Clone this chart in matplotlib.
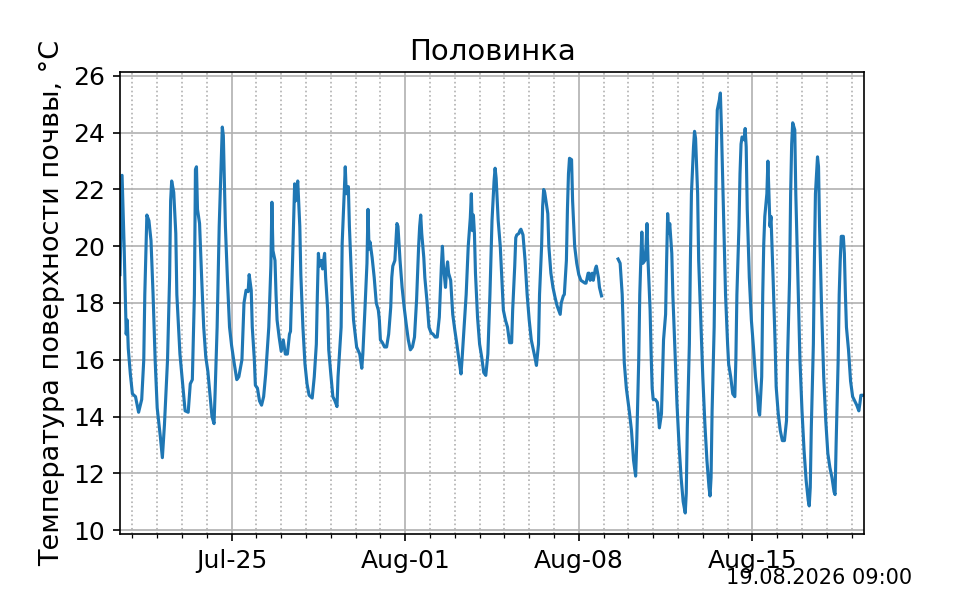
import matplotlib

matplotlib.use("Agg")
import matplotlib.dates as mdates
import matplotlib.pyplot as plt
import numpy as np
import pandas as pd

STATION = "Половинка"
Y_LABEL = "Температура поверхности почвы, °C"
STAMP = "19.08.2026 09:00"
START = pd.Timestamp("2026-07-20 12:00")
SPAN_DAYS = 30

# hours since START, soil surface temperature (nan = missing data)
hours = [
    0, 2, 4, 6, 7, 8, 10, 12, 15, 18, 21, 23, 24, 26, 28, 30, 32, 34, 36, 39,
    41, 43, 46, 48, 49, 50, 52, 54, 55, 58, 61, 63, 66, 68, 70, 72, 73, 74, 75, 77,
    79, 81, 83, 85, 87, 89, 91, 92, 94, 96, 98, 99, 100, 102, 104, 106, 108, 110, 113, 115,
    118, 120, 122, 124, 125, 127, 128, 130, 131, 133, 135, 137, 139, 141, 144, 146, 147, 148, 150, 151,
    152, 154, 156, 158, 160, 162, 164, 165, 167, 169, 170, 172, 174, 175, 177, 179, 181, 183, 186, 188,
    190, 191, 192, 193, 195, 196, 198, 199, 201, 202, 204, 206, 208, 210, 211, 214, 215, 217, 218, 219,
    221, 222, 224, 226, 229, 232, 234, 235, 237, 239, 240, 241, 242, 244, 246, 248, 250, 251, 252, 254,
    256, 258, 260, 262, 263, 264, 266, 268, 269, 271, 273, 275, 277, 279, 281, 283, 285, 287, 289, 290,
    291, 292, 294, 295, 297, 299, 301, 303, 305, 307, 309, 311, 312, 313, 315, 316, 317, 318, 320, 322,
    324, 326, 328, 330, 331, 333, 335, 337, 339, 340, 341, 342, 343, 344, 346, 348, 350, 352, 354, 356,
    358, 360, 362, 363, 364, 366, 368, 370, 371, 373, 375, 377, 379, 380, 382, 383, 384, 386, 387, 388,
    390, 392, 394, 396, 398, 400, 402, 403, 405, 406, 408, 409, 410, 411, 413, 414, 415, 417, 419, 421,
    423, 425, 426, 427, 429, 430, 432, 433, 434, 435, 437, 438, 440, 442, 444, 446, 448, 450, 451, 453,
    454, 455, 457, 458, 460, 461, 463, 464, 466, 474, 482, 484, 486, 487, 488, 490, 492, 493, 495, 497,
    499, 500, 502, 503, 504, 505, 506, 508, 509, 510, 511, 513, 514, 515, 516, 518, 520, 521, 522, 524,
    525, 526, 528, 529, 530, 531, 532, 534, 535, 537, 539, 541, 543, 545, 547, 548, 549, 551, 552, 553,
    555, 556, 557, 559, 560, 562, 564, 566, 568, 570, 571, 572, 573, 575, 576, 577, 578, 580, 581, 582,
    584, 586, 588, 589, 591, 593, 595, 596, 597, 599, 600, 601, 602, 604, 605, 606, 607, 609, 611, 613,
    615, 617, 618, 619, 621, 622, 623, 624, 626, 627, 628, 629, 630, 632, 634, 635, 637, 639, 641, 643,
    645, 646, 648, 649, 650, 651, 653, 654, 656, 658, 660, 662, 664, 666, 667, 668, 669, 671, 672, 673,
    675, 676, 677, 679, 681, 683, 685, 687, 689, 691, 692, 693, 695, 696, 697, 698, 700, 701, 702, 703,
    705, 707, 709, 711, 713, 715, 716, 717, 719,
]
temps = [
    19.0, 22.5, 20.0, 16.9, 17.4, 16.4, 15.5, 14.8, 14.7, 14.15, 14.6, 16.0, 18.3, 21.1, 20.9, 20.2, 18.3, 16.0, 14.3, 13.3,
    12.55, 13.7, 16.0, 18.9, 21.6, 22.3, 21.9, 20.45, 18.3, 16.2, 15.0, 14.2, 14.15, 15.15, 15.3, 18.3, 22.7, 22.8, 21.3, 20.8,
    18.9, 17.15, 16.1, 15.6, 14.8, 14.0, 13.75, 14.8, 17.15, 20.7, 23.0, 24.2, 23.9, 20.7, 18.8, 17.15, 16.5, 16.0, 15.3, 15.4,
    16.0, 18.0, 18.45, 18.4, 19.0, 18.45, 17.15, 16.0, 15.1, 15.0, 14.55, 14.4, 14.7, 15.5, 17.15, 19.3, 21.55, 19.85, 19.5, 18.3,
    17.4, 16.8, 16.3, 16.7, 16.2, 16.2, 16.9, 17.0, 19.5, 22.2, 21.6, 22.3, 20.7, 19.0, 17.15, 15.85, 15.15, 14.75, 14.65, 15.4,
    16.55, 18.3, 19.75, 19.3, 19.5, 19.2, 19.75, 18.9, 17.75, 16.35, 15.5, 14.7, 14.55, 14.35, 15.4, 17.15, 20.1, 21.85, 22.8, 21.85,
    22.1, 20.7, 18.9, 17.4, 16.45, 16.2, 15.7, 16.2, 17.75, 19.4, 21.3, 19.9, 20.15, 19.6, 18.9, 18.0, 17.75, 17.4, 16.7, 16.6,
    16.45, 16.45, 16.9, 17.85, 18.9, 19.3, 19.5, 20.8, 20.7, 19.5, 18.55, 17.85, 17.25, 16.7, 16.35, 16.45, 16.8, 18.1, 20.0, 20.7,
    21.1, 20.45, 19.6, 18.9, 18.1, 17.15, 16.95, 16.9, 16.8, 16.8, 17.5, 19.3, 20.0, 19.3, 18.55, 19.15, 19.45, 19.05, 18.8, 17.6,
    17.05, 16.55, 16.0, 15.5, 16.0, 17.15, 18.3, 20.0, 21.0, 21.85, 20.55, 21.1, 20.45, 19.05, 17.5, 16.55, 16.1, 15.55, 15.45, 16.2,
    18.3, 20.9, 22.3, 22.75, 22.4, 20.9, 20.0, 18.55, 17.75, 17.4, 17.15, 16.6, 16.6, 17.75, 19.3, 20.3, 20.4, 20.45, 20.55, 20.6,
    20.4, 19.5, 18.3, 17.4, 16.7, 16.35, 16.0, 15.8, 16.55, 18.3, 20.0, 21.4, 22.0, 21.9, 21.4, 21.15, 20.0, 19.05, 18.55, 18.2,
    17.9, 17.7, 17.6, 18.0, 18.25, 18.3, 19.5, 21.3, 22.55, 23.1, 23.05, 21.6, 20.0, 19.4, 19.0, 18.8, 18.75, 18.7, 18.7, 19.05,
    19.05, 18.8, 19.05, 18.8, 19.2, 19.3, 18.9, 18.55, 18.25, np.nan, 19.55, 19.4, 18.3, 17.15, 15.9, 15.0, 14.45, 14.15, 13.5, 12.45,
    11.9, 13.0, 16.0, 18.3, 19.5, 20.5, 19.4, 19.5, 19.95, 20.8, 19.5, 17.75, 16.2, 15.0, 14.6, 14.6, 14.5, 14.1, 13.6, 14.1,
    15.4, 16.7, 17.6, 19.5, 21.15, 20.45, 20.8, 19.75, 18.3, 16.35, 14.45, 13.0, 11.85, 11.0, 10.6, 11.3, 13.6, 16.55, 19.5, 21.85,
    23.5, 24.05, 23.8, 21.85, 19.5, 17.4, 15.4, 13.75, 12.45, 11.5, 11.2, 11.85, 14.2, 17.15, 20.1, 23.05, 24.8, 25.15, 25.4, 24.2,
    21.3, 18.3, 16.55, 15.85, 15.4, 14.8, 14.7, 16.0, 18.3, 20.7, 22.55, 23.6, 23.85, 23.75, 24.15, 23.5, 21.3, 18.9, 17.4, 16.45,
    15.4, 14.7, 14.2, 14.05, 15.4, 18.3, 20.1, 21.05, 21.85, 23.0, 21.85, 20.7, 21.05, 18.9, 16.55, 15.05, 14.1, 13.5, 13.15, 13.15,
    13.85, 16.0, 18.9, 21.85, 23.6, 24.35, 24.1, 21.85, 18.9, 16.0, 14.2, 12.8, 11.75, 11.05, 10.85, 11.5, 13.6, 16.55, 19.5, 21.85,
    23.15, 22.8, 20.7, 17.75, 15.4, 13.85, 12.7, 12.2, 11.85, 11.35, 11.25, 13.0, 16.0, 18.3, 19.5, 20.35, 20.35, 19.75, 18.3, 17.15,
    16.35, 15.25, 14.7, 14.55, 14.4, 14.2, 14.45, 14.75, 14.75,
]
y_ticks = [10, 12, 14, 16, 18, 20, 22, 24, 26]

times = (START + pd.to_timedelta(hours, unit="h")).to_numpy()

plt.rcParams["font.size"] = 12
fig, ax = plt.subplots(figsize=(6.4, 4), dpi=150)
ax.plot(times, temps, color="#1f77b4", linewidth=1.5)

ax.set_xlim(START.to_numpy(), (START + pd.Timedelta(days=SPAN_DAYS)).to_numpy())
ax.set_yticks(y_ticks)
ax.xaxis.set_major_locator(mdates.WeekdayLocator(byweekday=mdates.SA))
ax.xaxis.set_minor_locator(mdates.DayLocator())
ax.xaxis.set_major_formatter(mdates.DateFormatter("%b-%d"))
ax.grid(which="major", color="#b0b0b0", linewidth=0.8)
ax.grid(which="minor", axis="x", color="#b0b0b0", linestyle=":", linewidth=0.8)

ax.set_title(STATION, fontsize=14)
ax.set_ylabel(Y_LABEL, fontsize=13)
fig.text(0.95, 0.027, STAMP, ha="right", fontsize=10)

fig.savefig("out.png", dpi=150)
plt.close(fig)
